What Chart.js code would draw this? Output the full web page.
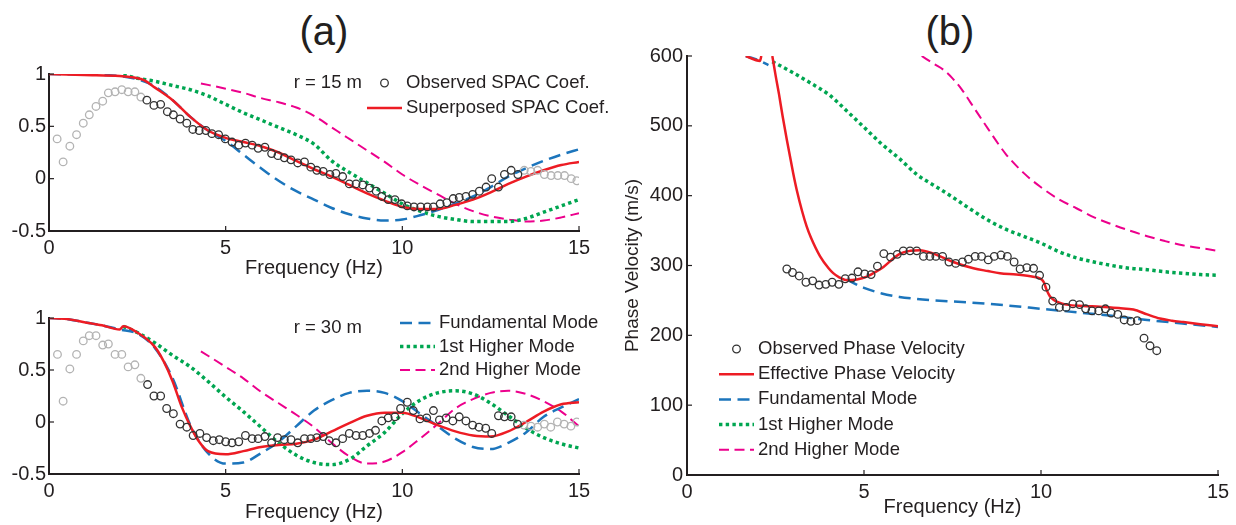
<!DOCTYPE html>
<html lang="en">
<head>
<meta charset="UTF-8">
<title>SPAC coefficients and phase velocity</title>
<script src="https://cdn.jsdelivr.net/npm/chart.js"></script>
<style>
  body { margin: 0; background: #fff; width: 1236px; height: 525px; position: relative; overflow: hidden;
         font-family: 'Liberation Sans', Arial, sans-serif; }
  canvas { position: absolute; }
  .tag { position: absolute; width: 100px; text-align: center; font-size: 40px; line-height: 40px; color: #231f20; }
</style>
</head>
<body>
<div class="tag" style="left:274px;top:11px">(a)</div>
<div class="tag" style="left:900px;top:11px">(b)</div>
<canvas id="spac15" width="620" height="240" style="left:0;top:50px"></canvas>
<canvas id="spac30" width="620" height="235" style="left:0;top:290px"></canvas>
<canvas id="velo" width="626" height="485" style="left:610px;top:40px"></canvas>

<script>
const FONT = "'Liberation Sans', Arial, sans-serif";
const INK = '#231f20';

// axis ticks
const freqTicks = [0, 5, 10, 15];
const spacTicks = [-0.5, 0, 0.5, 1];
const veloTicks = [0, 100, 200, 300, 400, 500, 600];

// legend / annotation text
const spacLegend15 = ['Observed SPAC Coef.', 'Superposed SPAC Coef.'];
const modeLegend = ['Fundamental Mode', '1st Higher Mode', '2nd Higher Mode'];
const veloLegend = ['Observed Phase Velocity', 'Effective Phase Velocity', 'Fundamental Mode', '1st Higher Mode', '2nd Higher Mode'];

// ---- r = 15 m SPAC coefficients ----
const obs15LowF = [0.23, 0.40, 0.59, 0.78, 0.97, 1.14, 1.33, 1.52, 1.68, 1.87, 2.06, 2.24, 2.43, 2.60];
const obs15LowV = [0.38, 0.16, 0.31, 0.42, 0.53, 0.61, 0.69, 0.74, 0.82, 0.83, 0.85, 0.83, 0.83, 0.78];
const obs15F = [2.77, 2.97, 3.16, 3.35, 3.52, 3.71, 3.90, 4.07, 4.25, 4.44, 4.61, 4.80, 4.99, 5.18, 5.37, 5.56, 5.75, 5.92, 6.11, 6.30,
  6.48, 6.66, 6.85, 7.04, 7.23, 7.41, 7.58, 7.76, 7.95, 8.12, 8.31, 8.50, 8.69, 8.88, 9.07, 9.26, 9.42, 9.60, 9.79, 9.98,
  10.14, 10.33, 10.52, 10.71, 10.88, 11.07, 11.26, 11.44, 11.61, 11.80, 11.99, 12.18, 12.37, 12.53, 12.72, 12.89, 13.08, 13.27];
const obs15V = [0.75, 0.70, 0.71, 0.64, 0.61, 0.57, 0.53, 0.47, 0.46, 0.46, 0.43, 0.42, 0.38, 0.35, 0.32, 0.34, 0.32, 0.29, 0.30, 0.24,
  0.22, 0.20, 0.18, 0.15, 0.16, 0.11, 0.08, 0.07, 0.04, 0.05, 0.02, -0.05, -0.05, -0.06, -0.09, -0.12, -0.17, -0.20, -0.20, -0.24,
  -0.26, -0.27, -0.27, -0.27, -0.27, -0.24, -0.23, -0.19, -0.18, -0.17, -0.15, -0.12, -0.08, 0.00, -0.08, 0.04, 0.08, 0.04];
const obs15HighF = [13.45, 13.64, 13.83, 14.02, 14.21, 14.40, 14.59, 14.78, 14.94];
const obs15HighV = [0.08, 0.07, 0.08, 0.04, 0.03, 0.03, 0.03, 0.00, -0.02];

const sup15F = [0, 1, 2, 2.5, 2.7, 3, 3.5, 4, 4.5, 5, 5.5, 6, 6.5, 7, 7.5, 8, 8.5, 9, 9.5, 10, 10.5, 11, 11.5, 12, 12.5, 13, 13.5, 14, 14.5, 15];
const sup15V = [1, 0.99, 0.98, 0.96, 0.94, 0.87, 0.75, 0.59, 0.46, 0.39, 0.35, 0.31, 0.25, 0.17, 0.09, 0.02, -0.06, -0.14, -0.21, -0.27, -0.29, -0.29, -0.25, -0.2, -0.13, -0.05, 0.02, 0.08, 0.13, 0.16];
const fund15F = [0, 1, 2, 2.5, 3, 3.5, 4, 4.5, 5, 5.5, 6, 6.5, 7, 7.5, 8, 8.5, 9, 9.5, 10, 10.5, 11, 11.5, 12, 12.5, 13, 13.5, 14, 14.5, 15];
const fund15V = [1, 0.995, 0.98, 0.95, 0.88, 0.75, 0.59, 0.46, 0.36, 0.23, 0.1, -0.02, -0.12, -0.2, -0.28, -0.34, -0.38, -0.4, -0.39, -0.35, -0.3, -0.24, -0.17, -0.08, 0.02, 0.1, 0.17, 0.23, 0.28];
const first15F = [2.1, 2.5, 3, 3.5, 4, 4.5, 5, 5.5, 6, 6.5, 7, 7.5, 8, 8.5, 9, 9.5, 10, 10.5, 11, 11.5, 12, 12.5, 13, 13.5, 14, 14.5, 15];
const first15V = [0.99, 0.96, 0.93, 0.89, 0.85, 0.79, 0.71, 0.63, 0.56, 0.49, 0.42, 0.33, 0.17, 0.06, -0.04, -0.14, -0.24, -0.31, -0.36, -0.39, -0.41, -0.41, -0.41, -0.38, -0.32, -0.26, -0.2];
const second15F = [4.3, 5, 5.5, 6, 6.5, 7, 7.5, 8, 8.5, 9, 9.5, 10, 10.5, 11, 11.5, 12, 12.5, 13, 13.5, 14, 14.5, 15];
const second15V = [0.91, 0.86, 0.82, 0.77, 0.73, 0.68, 0.6, 0.49, 0.38, 0.27, 0.16, 0.04, -0.06, -0.15, -0.24, -0.31, -0.36, -0.39, -0.41, -0.4, -0.37, -0.33];

// ---- r = 30 m SPAC coefficients ----
const obs30LowF = [0.24, 0.40, 0.59, 0.78, 0.97, 1.14, 1.33, 1.52, 1.68, 1.87, 2.06, 2.24, 2.43, 2.60];
const obs30LowV = [0.65, 0.20, 0.51, 0.65, 0.78, 0.83, 0.83, 0.74, 0.75, 0.65, 0.65, 0.53, 0.55, 0.42];
const obs30F = [2.79, 2.97, 3.16, 3.33, 3.52, 3.71, 3.90, 4.08, 4.27, 4.46, 4.65, 4.82, 5.00, 5.18, 5.37, 5.56, 5.75, 5.92, 6.11, 6.30,
  6.47, 6.66, 6.85, 7.04, 7.23, 7.41, 7.58, 7.76, 7.93, 8.12, 8.31, 8.50, 8.69, 8.88, 9.07, 9.24, 9.42, 9.60, 9.79, 9.95,
  10.14, 10.31, 10.50, 10.69, 10.88, 11.05, 11.24, 11.43, 11.61, 11.80, 11.99, 12.17, 12.36, 12.53, 12.72, 12.89, 13.08, 13.26];
const obs30V = [0.36, 0.25, 0.25, 0.13, 0.08, -0.02, -0.05, -0.13, -0.11, -0.15, -0.18, -0.17, -0.19, -0.20, -0.19, -0.13, -0.16, -0.16, -0.14, -0.20,
  -0.15, -0.17, -0.17, -0.20, -0.16, -0.16, -0.15, -0.14, -0.18, -0.20, -0.16, -0.11, -0.13, -0.13, -0.11, -0.08, 0.01, 0.04, 0.05, 0.13,
  0.19, 0.11, 0.03, 0.04, 0.11, 0.02, 0.04, 0.01, 0.05, 0.01, -0.03, -0.05, -0.06, -0.11, 0.06, 0.05, 0.05, -0.02];
const obs30HighF = [13.44, 13.64, 13.83, 14.02, 14.20, 14.39, 14.58, 14.77, 14.94];
const obs30HighV = [-0.03, -0.04, -0.05, -0.02, -0.05, 0.00, -0.02, -0.04, 0.00];

const sup30F = [0, 0.5, 1, 1.5, 2, 2.1, 2.5, 3, 3.25, 3.5, 3.75, 4, 4.25, 4.5, 5, 5.5, 6, 6.5, 7, 7.5, 8, 8.5, 9, 9.5, 10, 10.5, 11, 11.5, 12, 12.5, 13, 13.5, 14, 14.5, 15];
const sup30V = [1, 0.99, 0.96, 0.93, 0.89, 0.92, 0.86, 0.72, 0.58, 0.39, 0.15, -0.04, -0.19, -0.28, -0.31, -0.28, -0.24, -0.22, -0.21, -0.17, -0.09, -0.01, 0.06, 0.09, 0.09, 0.04, -0.03, -0.09, -0.13, -0.14, -0.09, 0.0, 0.1, 0.17, 0.19];
const fund30F = [0, 0.5, 1, 1.5, 2, 2.5, 3, 3.5, 4, 4.5, 5, 5.5, 6, 6.5, 7, 7.5, 8, 8.5, 9, 9.5, 10, 10.5, 11, 11.5, 12, 12.5, 13, 13.5, 14, 14.5, 15];
const fund30V = [1, 0.99, 0.96, 0.93, 0.89, 0.85, 0.71, 0.42, -0.03, -0.3, -0.4, -0.39, -0.3, -0.19, -0.04, 0.11, 0.21, 0.28, 0.3, 0.28, 0.2, 0.08, -0.04, -0.16, -0.24, -0.26, -0.2, -0.1, 0.05, 0.14, 0.22];
const first30F = [2.1, 2.5, 3, 3.5, 4, 4.5, 5, 5.5, 6, 6.5, 7, 7.5, 8, 8.5, 9, 9.5, 10, 10.5, 11, 11.5, 12, 12.5, 13, 13.5, 14, 14.5, 15];
const first30V = [0.92, 0.86, 0.76, 0.64, 0.53, 0.39, 0.24, 0.1, -0.05, -0.2, -0.32, -0.39, -0.41, -0.36, -0.23, -0.1, 0.08, 0.21, 0.28, 0.3, 0.27, 0.18, 0.06, -0.06, -0.15, -0.21, -0.25];
const second30F = [4.3, 5, 5.5, 6, 6.5, 7, 7.5, 8, 8.5, 9, 9.5, 10, 10.5, 11, 11.5, 12, 12.5, 13, 13.5, 14, 14.5, 15];
const second30V = [0.68, 0.53, 0.42, 0.29, 0.18, 0.07, -0.05, -0.2, -0.33, -0.4, -0.38, -0.29, -0.16, -0.02, 0.13, 0.22, 0.28, 0.3, 0.27, 0.2, 0.1, -0.04];

// ---- phase velocity (m/s) ----
const obsVelF = [2.82, 2.98, 3.17, 3.36, 3.55, 3.73, 3.92, 4.10, 4.29, 4.47, 4.66, 4.83, 5.02, 5.20, 5.38, 5.56, 5.75, 5.94, 6.11, 6.30,
  6.49, 6.68, 6.86, 7.03, 7.22, 7.40, 7.59, 7.78, 7.95, 8.14, 8.32, 8.51, 8.68, 8.87, 9.05, 9.24, 9.41, 9.60, 9.79, 9.96,
  10.14, 10.33, 10.52, 10.71, 10.90, 11.09, 11.26, 11.44, 11.63, 11.82, 11.98, 12.17, 12.35, 12.54, 12.72, 12.91, 13.08, 13.27];
const obsVelV = [295, 290, 285, 276, 278, 272, 273, 276, 273, 281, 282, 291, 288, 287, 299, 317, 312, 316, 321, 321,
  321, 313, 313, 313, 313, 305, 303, 305, 309, 313, 313, 308, 313, 315, 313, 305, 295, 297, 296, 286,
  269, 249, 240, 240, 245, 244, 238, 235, 235, 238, 232, 230, 222, 220, 221, 196, 185, 178];
const effVelF = [1.66, 2.06, 2.1, 2.11, 2.41, 2.5, 2.6, 2.7, 2.82, 3, 3.1, 3.25, 3.38, 3.5, 3.76, 4, 4.13, 4.3, 4.51, 4.8,
  5.08, 5.3, 5.55, 5.8, 6.02, 6.3, 6.58, 6.96, 7.2, 7.52, 8.09, 8.5, 8.84, 9.3, 9.78, 9.95, 10.07, 10.16, 10.25, 10.35,
  10.5, 10.72, 11.2, 11.67, 12.2, 12.61, 13, 13.36, 13.7, 14.02, 14.5, 15];
const effVelV = [600, 593, 600, null, 600, 573, 545, 514, 480, 432, 408, 378, 356, 340, 313, 296, 289, 283, 279, 280,
  284, 290, 298, 309, 317, 321, 322, 317, 312, 305, 296, 292, 289, 287, 284, 282, 277, 265, 256, 251,
  247, 244, 242, 241, 239, 237, 230, 224, 221, 219, 216, 213];
const fundVelF = [1.66, 2.06, 2.3, 2.31, 4.5, 5, 5.5, 6, 6.5, 7, 8, 9, 10, 11, 12, 13, 14, 15];
const fundVelV = [600, 593, 587, null, 280, 268, 260, 255, 252, 250, 247, 243, 238, 233, 228, 222, 217, 212];
const firstVelF = [2.41, 3, 3.5, 4, 4.5, 5, 5.5, 6, 6.5, 7, 7.5, 8, 8.5, 9, 9.5, 10, 10.5, 11, 11.5, 12, 12.5, 13, 13.5, 14, 14.5, 15];
const firstVelV = [592, 576, 561, 545, 522, 498, 474, 453, 430, 414, 398, 381, 365, 352, 342, 332, 320, 311, 305, 300, 296, 294, 291, 289, 287, 286];
const secondVelF = [6.63, 7, 7.25, 7.5, 7.75, 8, 8.25, 8.5, 9, 9.5, 10, 10.5, 11, 11.5, 12, 12.5, 13, 13.5, 14, 14.5, 15];
const secondVelV = [600, 588, 580, 568, 553, 534, 515, 496, 460, 433, 412, 395, 382, 369, 359, 350, 342, 335, 329, 325, 321];

// line styles
const STY = {
  obs:    { kind: 'circle', color: '#333333' },
  faint:  { kind: 'circle', color: '#b3b3b3' },
  red:    { kind: 'line', color: '#ed1c24', width: 2.5, dash: [] },
  fund:   { kind: 'line', color: '#1c75bc', width: 2.5, dash: [12, 6.5] },
  first:  { kind: 'line', color: '#00a651', width: 3.5, dash: [3.4, 3.3] },
  second: { kind: 'line', color: '#ec008c', width: 2, dash: [10, 5.5] }
};

Chart.defaults.font.family = FONT;
Chart.defaults.color = INK;

function pts(xs, ys) {
  return xs.map((x, i) => ({ x: x, y: ys[i] }));
}

function circles(xs, ys, sty) {
  return {
    data: pts(xs, ys), showLine: false, pointRadius: 3.8, pointHoverRadius: 3.8, pointBorderWidth: 1.3,
    pointBorderColor: sty.color, pointBackgroundColor: 'rgba(0,0,0,0)'
  };
}

function curve(xs, ys, sty) {
  return {
    data: pts(xs, ys), showLine: true, borderColor: sty.color, borderWidth: sty.width, borderDash: sty.dash,
    pointRadius: 0, cubicInterpolationMode: 'monotone', spanGaps: false, fill: false
  };
}

// MATLAB-like inward ticks, annotation and an inline legend
const figureDecor = {
  id: 'figureDecor',
  afterDatasetsDraw(chart, args, opts) {
    const { ctx, chartArea: area, scales } = chart;
    ctx.save();
    ctx.strokeStyle = INK;
    ctx.lineWidth = 1.2;
    ctx.setLineDash([]);
    scales.x.ticks.forEach(t => {
      const px = scales.x.getPixelForValue(t.value);
      ctx.beginPath(); ctx.moveTo(px, area.bottom); ctx.lineTo(px, area.bottom - 5); ctx.stroke();
    });
    scales.y.ticks.forEach(t => {
      const py = scales.y.getPixelForValue(t.value);
      ctx.beginPath(); ctx.moveTo(area.left, py); ctx.lineTo(area.left + 5, py); ctx.stroke();
    });

    ctx.font = opts.fontSize + 'px ' + FONT;
    ctx.fillStyle = INK;
    ctx.textBaseline = 'middle';
    if (opts.note) {
      ctx.textAlign = 'right';
      ctx.fillText(opts.note.text, opts.note.x, opts.note.y);
    }
    ctx.textAlign = 'left';
    const lg = opts.legend;
    lg.labels.forEach((label, i) => {
      const sty = lg.styles[i];
      const y = lg.y + i * lg.rowH;
      ctx.beginPath();
      ctx.strokeStyle = sty.color;
      if (sty.kind === 'circle') {
        ctx.lineWidth = 1.3;
        ctx.setLineDash([]);
        ctx.arc((lg.x0 + lg.x1) / 2, y, 3.8, 0, Math.PI * 2);
      } else {
        ctx.lineWidth = sty.width;
        ctx.setLineDash(sty.dash);
        ctx.moveTo(lg.x0, y);
        ctx.lineTo(lg.x1, y);
      }
      ctx.stroke();
      ctx.fillStyle = INK;
      ctx.fillText(label, lg.textX, y);
    });
    ctx.restore();
  }
};

function scalesFor(cfg) {
  return {
    x: {
      type: 'linear', min: 0, max: 15,
      border: { color: INK, width: 2 },
      grid: { display: false, drawTicks: false },
      ticks: { font: { size: 20 }, color: INK, padding: 5, callback: v => String(v) },
      title: { display: true, text: 'Frequency (Hz)', font: { size: 20 }, color: INK, padding: 0 },
      afterBuildTicks: s => { s.ticks = freqTicks.map(v => ({ value: v })); },
      afterFit: s => { s.height = cfg.xh; }
    },
    y: {
      type: 'linear', min: cfg.ymin, max: cfg.ymax,
      border: { color: INK, width: 2 },
      grid: { display: false, drawTicks: false },
      ticks: { font: { size: 20 }, color: INK, padding: cfg.ypad, callback: v => String(v) },
      title: cfg.ytitle ? { display: true, text: cfg.ytitle, font: { size: 19 }, color: INK, padding: cfg.ytitlePad } : { display: false },
      afterBuildTicks: s => { s.ticks = cfg.yticks.map(v => ({ value: v })); },
      afterFit: s => { s.width = cfg.yw; }
    }
  };
}

function makeChart(id, datasets, cfg, decor) {
  return new Chart(document.getElementById(id), {
    type: 'scatter',
    data: { datasets: datasets },
    options: {
      responsive: false, animation: false, devicePixelRatio: 1,
      layout: { padding: cfg.padding },
      scales: scalesFor(cfg),
      plugins: { legend: { display: false }, tooltip: { enabled: false }, figureDecor: decor }
    },
    plugins: [figureDecor]
  });
}

// (a) top: r = 15 m
makeChart('spac15', [
  circles(obs15F, obs15V, STY.obs),
  circles(obs15LowF, obs15LowV, STY.faint),
  circles(obs15HighF, obs15HighV, STY.faint),
  curve(sup15F, sup15V, STY.red),
  curve(fund15F, fund15V, STY.fund),
  curve(first15F, first15V, STY.first),
  curve(second15F, second15V, STY.second)
], { xh: 49, yw: 49, ypad: 3, ymin: -0.5, ymax: 1, yticks: spacTicks, padding: { left: 0, top: 24, right: 41, bottom: 10 } },
{ fontSize: 18.5, note: { text: 'r = 15 m', x: 362, y: 33 },
  legend: { labels: spacLegend15, styles: [STY.obs, STY.red], x0: 367, x1: 402, textX: 406, y: 33, rowH: 25 } });

// (a) bottom: r = 30 m
makeChart('spac30', [
  circles(obs30F, obs30V, STY.obs),
  circles(obs30LowF, obs30LowV, STY.faint),
  circles(obs30HighF, obs30HighV, STY.faint),
  curve(sup30F, sup30V, STY.red),
  curve(fund30F, fund30V, STY.fund),
  curve(first30F, first30V, STY.first),
  curve(second30F, second30V, STY.second)
], { xh: 50, yw: 49, ypad: 3, ymin: -0.5, ymax: 1, yticks: spacTicks, padding: { left: 0, top: 28, right: 41, bottom: 1 } },
{ fontSize: 18.5, note: { text: 'r = 30 m', x: 362, y: 38 },
  legend: { labels: modeLegend, styles: [STY.fund, STY.first, STY.second], x0: 400, x1: 435, textX: 439, y: 33, rowH: 23.5 } });

// (b) phase velocity
makeChart('velo', [
  circles(obsVelF, obsVelV, STY.obs),
  curve(effVelF, effVelV, STY.red),
  curve(fundVelF, fundVelV, STY.fund),
  curve(firstVelF, firstVelV, STY.first),
  curve(secondVelF, secondVelV, STY.second)
], { xh: 44, yw: 77, ypad: 4, ymin: 0, ymax: 600, yticks: veloTicks, ytitle: 'Phase Velocity (m/s)', ytitlePad: 11,
     padding: { left: 0, top: 16, right: 18, bottom: 6 } },
{ fontSize: 18.5,
  legend: { labels: veloLegend, styles: [STY.obs, STY.red, STY.fund, STY.first, STY.second], x0: 109, x1: 144, textX: 148, y: 309, rowH: 25.2 } });
</script>
</body>
</html>
